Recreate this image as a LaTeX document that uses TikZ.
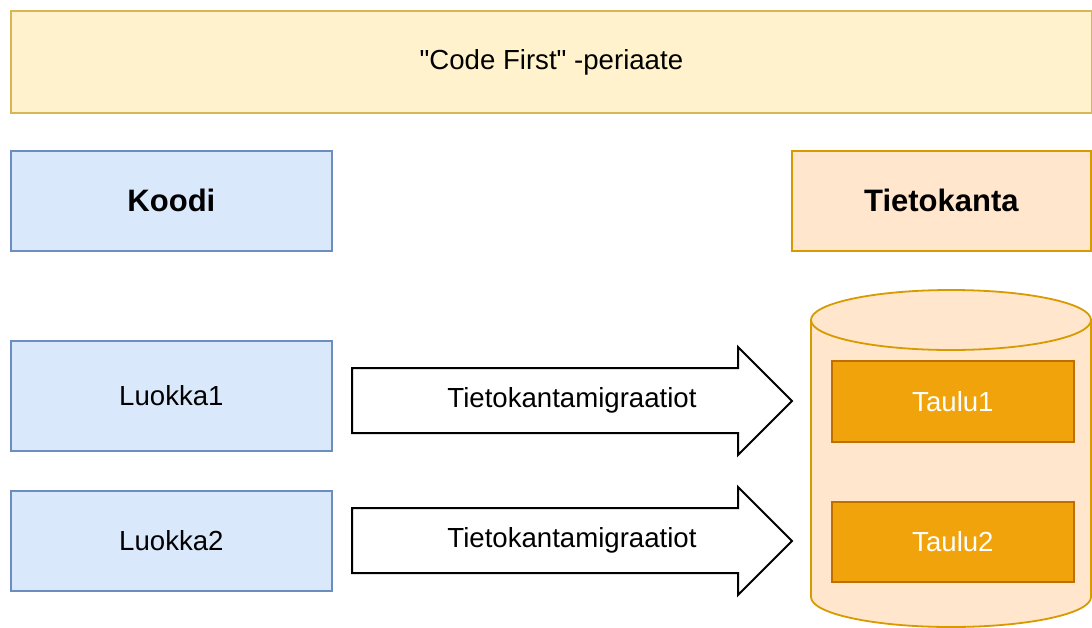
\documentclass[tikz,border=0pt]{standalone}
\usepackage{fontspec}
\setmainfont{Liberation Sans}[Ligatures=TeXOff]
\definecolor{yelfill}{HTML}{FFF2CC}
\definecolor{yelline}{HTML}{D6B656}
\definecolor{blufill}{HTML}{DAE8FC}
\definecolor{bluline}{HTML}{6C8EBF}
\definecolor{orafill}{HTML}{FFE6CC}
\definecolor{oraline}{HTML}{D79B00}
\definecolor{tabfill}{HTML}{F0A30A}
\definecolor{tabline}{HTML}{BD7000}
\tikzset{
  box/.style={draw, line width=1.8pt, inner sep=0pt, anchor=north west,
    font=\fontsize{27.6}{33}\selectfont},
  codebox/.style={box, fill=blufill, draw=bluline},
  dbbox/.style={box, fill=orafill, draw=oraline},
  titlebox/.style={box, fill=yelfill, draw=yelline},
  tablebox/.style={box, fill=tabfill, draw=tabline, text=white},
  head/.style={font=\fontsize{31}{36}\selectfont\bfseries},
  arrowshape/.style={draw=black, line width=2pt, fill=white, line join=miter},
  lbl/.style={font=\fontsize{27.6}{33}\selectfont}
}
\begin{document}
\begin{tikzpicture}[x=1pt,y=-1pt]
\useasboundingbox (0,0) rectangle (1092,627);

% title banner
\node[titlebox, minimum width=1081pt, minimum height=102pt] (title) at (10,10) {"Code First" -periaate};

% column headers
\node[codebox, minimum width=321pt, minimum height=100pt, head] (koodi) at (10,150) {Koodi};
\node[dbbox, minimum width=299pt, minimum height=100pt, head] (kanta) at (791,150) {Tietokanta};

% classes
\node[codebox, minimum width=321pt, minimum height=110pt] (luokka1) at (10,340) {Luokka1};
\node[codebox, minimum width=321pt, minimum height=100pt] (luokka2) at (10,490) {Luokka2};

% database cylinder
\fill[orafill] (811,320) -- (811,597) arc[start angle=180, end angle=360, x radius=140pt, y radius=30pt]
  -- (1091,320) arc[start angle=0, end angle=180, x radius=140pt, y radius=30pt] -- cycle;
\draw[oraline, line width=1.8pt] (811,320) -- (811,597) arc[start angle=180, end angle=360, x radius=140pt, y radius=30pt]
  -- (1091,320);
\draw[oraline, line width=1.8pt] (951,320) ellipse[x radius=140pt, y radius=30pt];

% tables
\node[tablebox, minimum width=242pt, minimum height=81pt] (taulu1) at (831,360) {Taulu1};
\node[tablebox, minimum width=242pt, minimum height=80pt] (taulu2) at (831,501) {Taulu2};

% migration arrows
\draw[arrowshape] (352,368) -- (738,368) -- (738,347) -- (792,401) -- (738,455) -- (738,433) -- (352,433) -- cycle;
\node[lbl] (mig1) at (572,400) {Tietokantamigraatiot};
\draw[arrowshape] (352,508) -- (738,508) -- (738,487) -- (792,541) -- (738,595) -- (738,573) -- (352,573) -- cycle;
\node[lbl] (mig2) at (572,540) {Tietokantamigraatiot};
\end{tikzpicture}
\end{document}
